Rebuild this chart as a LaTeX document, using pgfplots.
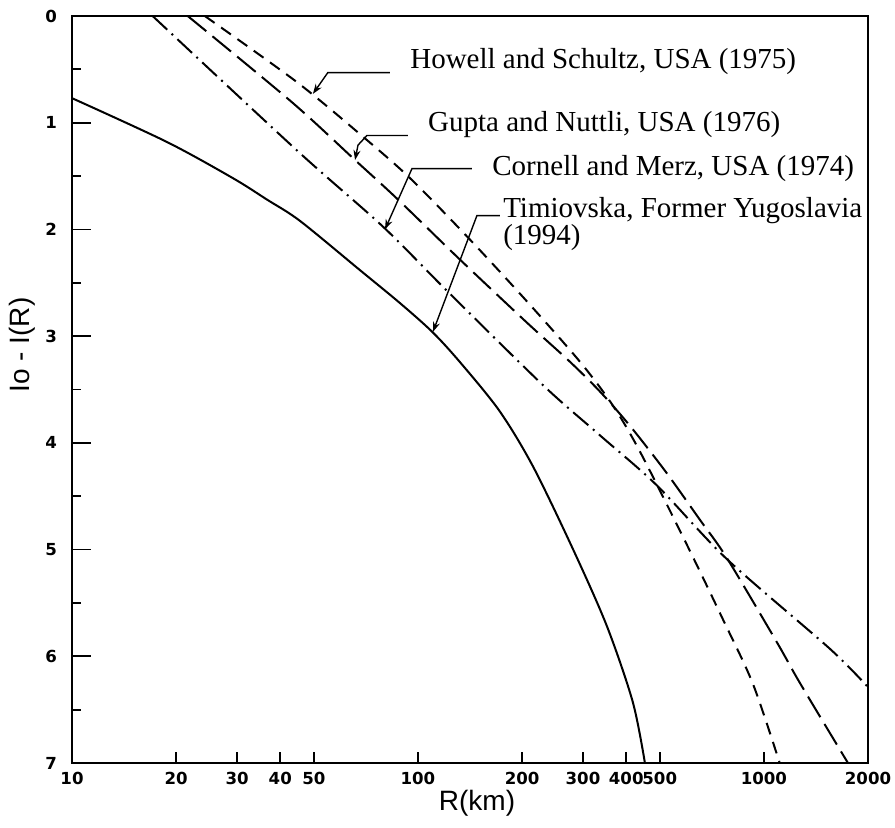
\documentclass[border=0pt]{standalone}
\usepackage{fontspec}
\setmainfont{Liberation Serif}
\newfontfamily\tickfont{DejaVu Sans}
\newfontfamily\labfont{Liberation Sans}
\usepackage{pgfplots}
\pgfplotsset{compat=1.18}
\usetikzlibrary{arrows.meta}

\begin{document}
\begin{tikzpicture}
\begin{axis}[
  scale only axis, width=398pt, height=373.5pt,
  xmode=log, xmin=10, xmax=2000,
  ymin=0, ymax=7, y dir=reverse,
  xtick={10,20,30,40,50,100,200,300,400,500,1000,2000},
  xticklabels={10,20,30,40,50,100,200,300,400,500,1000,2000},
  minor xtick={},
  ytick={0,1,...,7}, minor y tick num=1,
  tick pos=left, tick align=inside,
  major tick length=9.5pt, minor tick length=4.5pt,
  xtick style={/pgfplots/major tick length=5.5pt},
  axis line style={line width=1.2pt},
  tick style={line width=0.9pt, black},
  ticklabel style={font=\tickfont\bfseries\fontsize{8.3}{9}\selectfont},
  /pgf/number format/assume math mode=true,
  yticklabel style={xshift=-4pt},
  xticklabel style={yshift=-1pt},
  clip=false,
]

% Howell and Schultz (short dashes)
\addplot[line width=1pt, smooth, tension=0.5, dash pattern=on 6pt off 4pt] coordinates {
  (24.2,0) (44.7,0.62) (69.3,1.13) (94.9,1.52) (139,2.07) (206,2.67)
  (294,3.24) (366,3.65) (438,4.08) (598,4.95) (763,5.66) (930,6.26)
  (1111,7.0)
};

% Gupta and Nuttli (long dashes)
\addplot[line width=1pt, smooth, tension=0.5, dash pattern=on 12pt off 4pt] coordinates {
  (21.6,0) (43.3,0.81) (65.8,1.35) (86.9,1.71) (132,2.28) (206,2.87)
  (275,3.24) (336,3.52) (410,3.84) (520,4.27) (653,4.72) (782,5.08)
  (1091,5.87) (1271,6.25) (1750,7.0)
};

% Cornell and Merz (dash-dot)
\addplot[line width=1pt, smooth, tension=0.5, dash pattern=on 10pt off 3pt on 1pt off 3pt] coordinates {
  (17.1,0) (44.7,1.26) (79,1.97) (120,2.56) (230,3.46) (336,3.93)
  (491,4.40) (782,5.09) (1552,5.93) (2000,6.29)
};

% Timiovska (solid)
\addplot[line width=1pt, smooth, tension=0.5] coordinates {
  (10,0.77) (18.8,1.18) (29.2,1.52) (36.6,1.72) (45.6,1.92) (67.9,2.38)
  (88.7,2.69) (110,2.96) (132,3.24) (172,3.70) (215,4.22) (281,5.00)
  (352,5.72) (418,6.43) (453,7.0)
};

% leaders and labels
\tikzset{leader/.style={line width=0.7pt, -{Stealth[length=5pt,width=3.5pt]}},
         ann/.style={anchor=west, inner sep=0pt, font=\fontsize{14.5}{17}\selectfont}}
\draw[leader] (axis cs:83,0.53) -- (axis cs:54.9,0.53) -- (axis cs:49.7,0.73);
\draw[leader] (axis cs:93.5,1.12) -- (axis cs:71.2,1.12) -- (axis cs:67.1,1.21) -- (axis cs:65.8,1.35);
\draw[leader] (axis cs:143.2,1.43) -- (axis cs:96.1,1.43) -- (axis cs:80.3,2.0);
\draw[leader] (axis cs:172.6,1.87) -- (axis cs:148.1,1.87) -- (axis cs:110.5,2.96);

\node[ann] at (axis cs:94.8,0.43) {Howell and Schultz, USA (1975)};
\node[ann] at (axis cs:106.8,1.02) {Gupta and Nuttli, USA (1976)};
\node[ann] at (axis cs:163.7,1.43) {Cornell and Merz, USA (1974)};
\node[ann] at (axis cs:176,1.82) {Timiovska, Former Yugoslavia};
\node[ann] at (axis cs:176,2.08) {(1994)};
\end{axis}

\node[rotate=90, font=\labfont\fontsize{14}{16}\selectfont]
  at ([shift={(-25pt,209pt)}]current axis.south west) {Io - I(R)};
\node[font=\labfont\fontsize{14}{16}\selectfont]
  at ([shift={(202.5pt,-20pt)}]current axis.south west) {R(km)};

\pgfresetboundingbox
\useasboundingbox ([shift={(-36pt,-32pt)}]current axis.south west)
  rectangle ([shift={(13.5pt,8pt)}]current axis.north east);
\end{tikzpicture}
\end{document}
